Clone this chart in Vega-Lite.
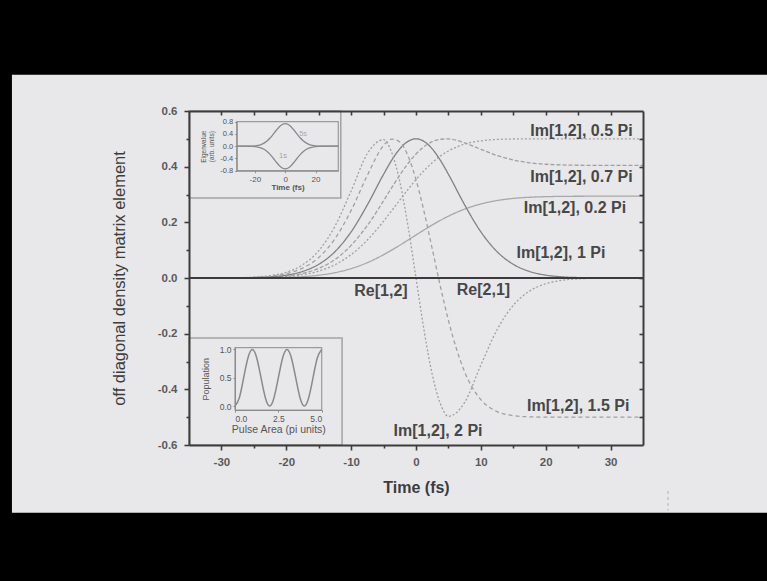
{
  "$schema": "https://vega.github.io/schema/vega-lite/v6.json",
  "width": 454,
  "height": 334,
  "autosize": {"type": "none"},
  "padding": {"left": 189, "top": 111, "right": 124, "bottom": 136},
  "background": "#000000",
  "config": {
    "view": {"stroke": null},
    "font": "Liberation Sans",
    "axis": {"grid": false},
    "text": {"font": "Liberation Sans"}
  },
  "datasets": {
    "coherence": [
      {"t": -35, "pi02": 0, "pi05": 0, "pi07": 0, "pi1": 0, "pi15": 0, "pi2": 0},
      {"t": -32.5, "pi02": 0, "pi05": 0, "pi07": 0, "pi1": 0, "pi15": 0.0001, "pi2": 0.0001},
      {"t": -30, "pi02": 0, "pi05": 0.0001, "pi07": 0.0001, "pi1": 0.0001, "pi15": 0.0002, "pi2": 0.0003},
      {"t": -27.5, "pi02": 0.0001, "pi05": 0.0003, "pi07": 0.0004, "pi1": 0.0005, "pi15": 0.0008, "pi2": 0.001},
      {"t": -25, "pi02": 0.0003, "pi05": 0.0008, "pi07": 0.0011, "pi1": 0.0015, "pi15": 0.0023, "pi2": 0.003},
      {"t": -22.5, "pi02": 0.0008, "pi05": 0.0021, "pi07": 0.0029, "pi1": 0.0041, "pi15": 0.0062, "pi2": 0.0083},
      {"t": -20, "pi02": 0.0021, "pi05": 0.0052, "pi07": 0.0072, "pi1": 0.0103, "pi15": 0.0155, "pi2": 0.0206},
      {"t": -17.5, "pi02": 0.0047, "pi05": 0.0118, "pi07": 0.0165, "pi1": 0.0235, "pi15": 0.0353, "pi2": 0.0471},
      {"t": -15, "pi02": 0.0099, "pi05": 0.0247, "pi07": 0.0345, "pi1": 0.0492, "pi15": 0.0737, "pi2": 0.098},
      {"t": -12.5, "pi02": 0.019, "pi05": 0.0475, "pi07": 0.0664, "pi1": 0.0946, "pi15": 0.1409, "pi2": 0.1858},
      {"t": -10, "pi02": 0.0338, "pi05": 0.0841, "pi07": 0.1172, "pi1": 0.1658, "pi15": 0.2428, "pi2": 0.3128},
      {"t": -7.5, "pi02": 0.0552, "pi05": 0.1366, "pi07": 0.1888, "pi1": 0.2628, "pi15": 0.369, "pi2": 0.447},
      {"t": -5, "pi02": 0.0837, "pi05": 0.204, "pi07": 0.2776, "pi1": 0.3726, "pi15": 0.4761, "pi2": 0.4969},
      {"t": -3.75, "pi02": 0.1002, "pi05": 0.2416, "pi07": 0.3244, "pi1": 0.4231, "pi15": 0.4991, "pi2": 0.4511},
      {"t": -2.5, "pi02": 0.1177, "pi05": 0.2799, "pi07": 0.3696, "pi1": 0.4639, "pi15": 0.4889, "pi2": 0.3462},
      {"t": -1.25, "pi02": 0.136, "pi05": 0.3178, "pi07": 0.4108, "pi1": 0.4906, "pi15": 0.44, "pi2": 0.1887},
      {"t": 0, "pi02": 0.1545, "pi05": 0.3536, "pi07": 0.4455, "pi1": 0.5, "pi15": 0.3536, "pi2": 0},
      {"t": 1.25, "pi02": 0.1728, "pi05": 0.386, "pi07": 0.4721, "pi1": 0.4906, "pi15": 0.2376, "pi2": -0.1887},
      {"t": 2.5, "pi02": 0.1904, "pi05": 0.4143, "pi07": 0.4897, "pi1": 0.4639, "pi15": 0.1052, "pi2": -0.3462},
      {"t": 3.75, "pi02": 0.2069, "pi05": 0.4379, "pi07": 0.4985, "pi1": 0.4231, "pi15": -0.029, "pi2": -0.4511},
      {"t": 5, "pi02": 0.2221, "pi05": 0.4565, "pi07": 0.4996, "pi1": 0.3726, "pi15": -0.1524, "pi2": -0.4969},
      {"t": 7.5, "pi02": 0.2475, "pi05": 0.4811, "pi07": 0.4855, "pi1": 0.2628, "pi15": -0.3374, "pi2": -0.447},
      {"t": 10, "pi02": 0.2659, "pi05": 0.4929, "pi07": 0.4622, "pi1": 0.1658, "pi15": -0.4371, "pi2": -0.3128},
      {"t": 12.5, "pi02": 0.2783, "pi05": 0.4977, "pi07": 0.44, "pi1": 0.0946, "pi15": -0.4798, "pi2": -0.1858},
      {"t": 15, "pi02": 0.2859, "pi05": 0.4994, "pi07": 0.424, "pi1": 0.0492, "pi15": -0.4945, "pi2": -0.098},
      {"t": 17.5, "pi02": 0.2901, "pi05": 0.4999, "pi07": 0.414, "pi1": 0.0235, "pi15": -0.4988, "pi2": -0.0471},
      {"t": 20, "pi02": 0.2922, "pi05": 0.5, "pi07": 0.4087, "pi1": 0.0103, "pi15": -0.4998, "pi2": -0.0206},
      {"t": 22.5, "pi02": 0.2933, "pi05": 0.5, "pi07": 0.4062, "pi1": 0.0041, "pi15": -0.5, "pi2": -0.0083},
      {"t": 25, "pi02": 0.2937, "pi05": 0.5, "pi07": 0.4051, "pi1": 0.0015, "pi15": -0.5, "pi2": -0.003},
      {"t": 27.5, "pi02": 0.2939, "pi05": 0.5, "pi07": 0.4047, "pi1": 0.0005, "pi15": -0.5, "pi2": -0.001},
      {"t": 30, "pi02": 0.2939, "pi05": 0.5, "pi07": 0.4046, "pi1": 0.0001, "pi15": -0.5, "pi2": -0.0003},
      {"t": 32.5, "pi02": 0.2939, "pi05": 0.5, "pi07": 0.4045, "pi1": 0, "pi15": -0.5, "pi2": -0.0001},
      {"t": 35, "pi02": 0.2939, "pi05": 0.5, "pi07": 0.4045, "pi1": 0, "pi15": -0.5, "pi2": 0}
    ],
    "eigen": [
      {"t": -32, "u": 0, "l": 0},
      {"t": -28, "u": 0.0002, "l": -0.0002},
      {"t": -24, "u": 0.0021, "l": -0.0021},
      {"t": -22, "u": 0.0053, "l": -0.0053},
      {"t": -20, "u": 0.0125, "l": -0.0125},
      {"t": -18, "u": 0.0272, "l": -0.0272},
      {"t": -16, "u": 0.0543, "l": -0.0543},
      {"t": -14, "u": 0.1001, "l": -0.1001},
      {"t": -12, "u": 0.1703, "l": -0.1703},
      {"t": -10, "u": 0.2667, "l": -0.2667},
      {"t": -8, "u": 0.3852, "l": -0.3852},
      {"t": -6, "u": 0.5125, "l": -0.5125},
      {"t": -4, "u": 0.6285, "l": -0.6285},
      {"t": -2, "u": 0.7104, "l": -0.7104},
      {"t": 0, "u": 0.74, "l": -0.74},
      {"t": 2, "u": 0.7104, "l": -0.7104},
      {"t": 4, "u": 0.6285, "l": -0.6285},
      {"t": 6, "u": 0.5125, "l": -0.5125},
      {"t": 8, "u": 0.3852, "l": -0.3852},
      {"t": 10, "u": 0.2667, "l": -0.2667},
      {"t": 12, "u": 0.1703, "l": -0.1703},
      {"t": 14, "u": 0.1001, "l": -0.1001},
      {"t": 16, "u": 0.0543, "l": -0.0543},
      {"t": 18, "u": 0.0272, "l": -0.0272},
      {"t": 20, "u": 0.0125, "l": -0.0125},
      {"t": 22, "u": 0.0053, "l": -0.0053},
      {"t": 24, "u": 0.0021, "l": -0.0021},
      {"t": 28, "u": 0.0002, "l": -0.0002},
      {"t": 32, "u": 0, "l": 0},
      {"t": 35, "u": 0, "l": 0}
    ],
    "population": [
      {"a": 0, "p": 0}, {"a": 0.25, "p": 0.1464}, {"a": 0.5, "p": 0.5}, {"a": 0.75, "p": 0.8536},
      {"a": 1, "p": 1}, {"a": 1.25, "p": 0.8536}, {"a": 1.5, "p": 0.5}, {"a": 1.75, "p": 0.1464},
      {"a": 2, "p": 0}, {"a": 2.25, "p": 0.1464}, {"a": 2.5, "p": 0.5}, {"a": 2.75, "p": 0.8536},
      {"a": 3, "p": 1}, {"a": 3.25, "p": 0.8536}, {"a": 3.5, "p": 0.5}, {"a": 3.75, "p": 0.1464},
      {"a": 4, "p": 0}, {"a": 4.25, "p": 0.1464}, {"a": 4.5, "p": 0.5}, {"a": 4.75, "p": 0.8536},
      {"a": 5, "p": 1}
    ],
    "rightNotes": [
      {"t": 33.4, "v": 0.527, "label": "Im[1,2], 0.5 Pi"},
      {"t": 33.4, "v": 0.363, "label": "Im[1,2], 0.7 Pi"},
      {"t": 32.4, "v": 0.2515, "label": "Im[1,2], 0.2 Pi"},
      {"t": 29.2, "v": 0.09, "label": "Im[1,2], 1 Pi"},
      {"t": 32.9, "v": -0.461, "label": "Im[1,2], 1.5 Pi"}
    ],
    "centerNotes": [
      {"t": 3.4, "v": -0.551, "label": "Im[1,2], 2 Pi"},
      {"t": -5.4, "v": -0.045, "label": "Re[1,2]"},
      {"t": 10.4, "v": -0.042, "label": "Re[2,1]"}
    ],
    "eigenNotes": [
      {"t": 11.8, "v": 0.41, "label": "5s", "state": "upper"},
      {"t": -1.5, "v": -0.33, "label": "1s", "state": "lower"}
    ]
  },
  "layer": [
    {
      "data": {"values": [{}]},
      "mark": {"type": "rect", "color": "#e8e8ea", "clip": false},
      "encoding": {
        "x": {"datum": -62.3, "type": "quantitative", "scale": {"domain": [-35, 35], "nice": false, "zero": false}, "axis": null},
        "x2": {"datum": 54.5},
        "y": {"datum": 0.7305, "type": "quantitative", "scale": {"domain": [-0.6, 0.6], "nice": false, "zero": false}, "axis": null},
        "y2": {"datum": -0.8433}
      }
    },
    {
      "data": {"values": [{}]},
      "mark": {"type": "rule", "color": "#b0b0b2", "strokeWidth": 1, "strokeDash": [3, 3], "clip": false},
      "encoding": {
        "x": {"datum": 38.85, "type": "quantitative", "scale": {"domain": [-35, 35], "nice": false, "zero": false}, "axis": null},
        "y": {"datum": -0.765, "type": "quantitative", "scale": {"domain": [-0.6, 0.6], "nice": false, "zero": false}, "axis": null},
        "y2": {"datum": -0.835}
      }
    },
    {
      "data": {"values": [{"x0": -35, "x1": -11.6, "y0": 0.6, "y1": 0.2875}, {"x0": -35, "x1": -11.4, "y0": -0.2156, "y1": -0.6}]},
      "mark": {"type": "rect", "filled": false, "stroke": "#a2a2a4", "strokeWidth": 1.5},
      "encoding": {
        "x": {"field": "x0", "type": "quantitative", "scale": {"domain": [-35, 35], "nice": false, "zero": false}, "axis": null},
        "x2": {"field": "x1"},
        "y": {"field": "y0", "type": "quantitative", "scale": {"domain": [-0.6, 0.6], "nice": false, "zero": false}, "axis": null},
        "y2": {"field": "y1"}
      }
    },
    {
      "data": {"name": "coherence"},
      "transform": [{"fold": ["pi02", "pi05", "pi07", "pi1", "pi15", "pi2"], "as": ["area", "v"]}],
      "mark": {"type": "line", "interpolate": "monotone", "strokeWidth": 1.3},
      "encoding": {
        "x": {
          "field": "t", "type": "quantitative",
          "scale": {"domain": [-35, 35], "nice": false, "zero": false},
          "axis": {
            "zindex": 1,
            "orient": "bottom",
            "values": [-30, -25, -20, -15, -10, -5, 0, 5, 10, 15, 20, 25, 30],
            "tickSize": {"condition": {"test": "datum.value % 10 === 0", "value": 5}, "value": 3},
            "labelExpr": "datum.value % 10 === 0 ? replace(datum.label, '\u2212', '-') : ''",
            "domainColor": "#3c3c3c", "domainWidth": 2,
            "tickColor": "#3c3c3c", "tickWidth": 1.6,
            "labelColor": "#5a5a5a", "labelFontSize": 11.5, "labelFontWeight": "bold", "labelPadding": 6,
            "title": "Time (fs)", "titleFontSize": 16, "titleFontWeight": "bold", "titleColor": "#3c3c3c", "titlePadding": 12
          }
        },
        "y": {
          "field": "v", "type": "quantitative",
          "scale": {"domain": [-0.6, 0.6], "nice": false, "zero": false},
          "axis": {
            "zindex": 1,
            "orient": "left",
            "values": [-0.6, -0.5, -0.4, -0.3, -0.2, -0.1, 0, 0.1, 0.2, 0.3, 0.4, 0.5, 0.6],
            "tickSize": {"condition": {"test": "abs(round(datum.value * 10)) % 2 === 0", "value": 5}, "value": 3},
            "labelExpr": "abs(round(datum.value * 10)) % 2 === 0 ? replace(format(datum.value, '.1f'), '\u2212', '-') : ''",
            "domainColor": "#3c3c3c", "domainWidth": 2,
            "tickColor": "#3c3c3c", "tickWidth": 1.6,
            "labelColor": "#5a5a5a", "labelFontSize": 11.5, "labelFontWeight": "bold", "labelPadding": 7,
            "title": "off diagonal density matrix element", "titleFontSize": 16.5, "titleFontWeight": "normal", "titleColor": "#3c3c3c", "titlePadding": 30
          }
        },
        "color": {
          "field": "area", "type": "nominal", "legend": null,
          "scale": {"domain": ["pi02", "pi05", "pi07", "pi1", "pi15", "pi2"], "range": ["#a8a8aa", "#a0a0a2", "#a0a0a2", "#808082", "#a0a0a2", "#a0a0a2"]}
        },
        "strokeDash": {
          "field": "area", "type": "nominal", "legend": null,
          "scale": {"domain": ["pi02", "pi05", "pi07", "pi1", "pi15", "pi2"], "range": [[1, 0], [2, 2], [4, 2], [1, 0], [4, 3], [2, 2]]}
        }
      }
    },
    {
      "data": {"values": [{}]},
      "mark": {"type": "rule", "color": "#3a3a3a", "strokeWidth": 2},
      "encoding": {
        "y": {"datum": 0, "type": "quantitative", "scale": {"domain": [-0.6, 0.6], "nice": false, "zero": false}, "axis": null}
      }
    },
    {
      "data": {"name": "rightNotes"},
      "mark": {"type": "text", "align": "right", "baseline": "middle", "fontSize": 16, "fontWeight": "bold", "color": "#474747"},
      "encoding": {
        "x": {"field": "t", "type": "quantitative", "scale": {"domain": [-35, 35], "nice": false, "zero": false}, "axis": null},
        "y": {"field": "v", "type": "quantitative", "scale": {"domain": [-0.6, 0.6], "nice": false, "zero": false}, "axis": null},
        "text": {"field": "label"}
      }
    },
    {
      "data": {"name": "centerNotes"},
      "mark": {"type": "text", "align": "center", "baseline": "middle", "fontSize": 16, "fontWeight": "bold", "color": "#474747"},
      "encoding": {
        "x": {"field": "t", "type": "quantitative", "scale": {"domain": [-35, 35], "nice": false, "zero": false}, "axis": null},
        "y": {"field": "v", "type": "quantitative", "scale": {"domain": [-0.6, 0.6], "nice": false, "zero": false}, "axis": null},
        "text": {"field": "label"}
      }
    },
    {
      "data": {"name": "coherence"},
      "mark": {"type": "point", "opacity": 0},
      "encoding": {
        "x": {
          "field": "t", "type": "quantitative",
          "scale": {"domain": [-35, 35], "nice": false, "zero": false},
          "axis": {"zindex": 1, "orient": "top", "labels": false, "title": null, "values": [-30, -25, -20, -15, -10, -5, 0, 5, 10, 15, 20, 25, 30], "tickSize": -4, "domainColor": "#3c3c3c", "domainWidth": 2, "tickColor": "#3c3c3c", "tickWidth": 1.6}
        },
        "y": {
          "field": "pi1", "type": "quantitative",
          "scale": {"domain": [-0.6, 0.6], "nice": false, "zero": false},
          "axis": {"zindex": 1, "orient": "right", "labels": false, "title": null, "values": [-0.5, -0.4, -0.3, -0.2, -0.1, 0, 0.1, 0.2, 0.3, 0.4, 0.5], "tickSize": -4, "domainColor": "#3c3c3c", "domainWidth": 2, "tickColor": "#3c3c3c", "tickWidth": 1.6}
        }
      }
    },
    {
      "data": {"values": [{}]},
      "mark": {"type": "rect", "filled": false, "stroke": "#9a9a9c", "strokeWidth": 1.2},
      "encoding": {
        "x": {"datum": -32, "type": "quantitative", "scale": {"domain": [-32, 35], "range": [47.7, 149.3], "nice": false, "zero": false}, "axis": null},
        "x2": {"datum": 35},
        "y": {"datum": -0.8, "type": "quantitative", "scale": {"domain": [-0.8, 0.8], "range": [59.7, 10.7], "nice": false, "zero": false}, "axis": null},
        "y2": {"datum": 0.8}
      }
    },
    {
      "data": {"name": "eigen"},
      "transform": [{"fold": ["u", "l"], "as": ["branch", "e"]}],
      "mark": {"type": "line", "interpolate": "monotone", "color": "#8a8a8c", "strokeWidth": 1.3},
      "encoding": {
        "x": {
          "field": "t", "type": "quantitative",
          "scale": {"domain": [-32, 35], "range": [47.7, 149.3], "nice": false, "zero": false},
          "axis": {"zindex": 1, "orient": "bottom", "offset": -274.3, "values": [-20, 0, 20], "tickSize": 2, "domainColor": "#8a8a8c", "tickColor": "#8a8a8c", "labelColor": "#555555", "labelFontSize": 8, "labelPadding": 3, "labelExpr": "replace(datum.label, '\u2212', '-')", "title": "Time (fs)", "titleFontSize": 8, "titleFontWeight": "bold", "titleColor": "#555555", "titlePadding": 0}
        },
        "y": {
          "field": "e", "type": "quantitative",
          "scale": {"domain": [-0.8, 0.8], "range": [59.7, 10.7], "nice": false, "zero": false},
          "axis": {"zindex": 1, "orient": "left", "offset": -47.7, "values": [-0.8, -0.4, 0, 0.4, 0.8], "tickSize": 2, "domainColor": "#8a8a8c", "tickColor": "#8a8a8c", "labelColor": "#555555", "labelFontSize": 7.5, "labelPadding": 2, "labelExpr": "replace(format(datum.value, '.1f'), '\u2212', '-')", "title": ["Eigenvalue", "(arb. units)"], "titleFontSize": 6.5, "titleFontWeight": "normal", "titleColor": "#555555", "titlePadding": 5}
        },
        "detail": {"field": "branch"}
      }
    },
    {
      "data": {"name": "eigenNotes"},
      "mark": {"type": "text", "fontSize": 7.5, "baseline": "middle", "align": "center"},
      "encoding": {
        "x": {"field": "t", "type": "quantitative", "scale": {"domain": [-32, 35], "range": [47.7, 149.3], "nice": false, "zero": false}, "axis": null},
        "y": {"field": "v", "type": "quantitative", "scale": {"domain": [-0.8, 0.8], "range": [59.7, 10.7], "nice": false, "zero": false}, "axis": null},
        "text": {"field": "label"},
        "color": {"field": "state", "type": "nominal", "legend": null, "scale": {"domain": ["upper", "lower"], "range": ["#444444", "#e0303a"]}}
      }
    },
    {
      "data": {"values": [{}]},
      "mark": {"type": "rect", "filled": false, "stroke": "#9a9a9c", "strokeWidth": 1.2},
      "encoding": {
        "x": {"datum": 0, "type": "quantitative", "scale": {"domain": [0, 5], "range": [46, 132.7], "nice": false, "zero": false}, "axis": null},
        "x2": {"datum": 5},
        "y": {"datum": -0.07, "type": "quantitative", "scale": {"domain": [-0.07, 1.03], "range": [299, 236.7], "nice": false, "zero": false}, "axis": null},
        "y2": {"datum": 1.03}
      }
    },
    {
      "data": {"name": "population"},
      "mark": {"type": "line", "interpolate": "natural", "color": "#8a8a8c", "strokeWidth": 1.5},
      "encoding": {
        "x": {
          "field": "a", "type": "quantitative",
          "scale": {"domain": [0, 5], "range": [46, 132.7], "nice": false, "zero": false},
          "axis": {"zindex": 1, "orient": "bottom", "offset": -35, "values": [0, 2.5, 5], "format": ".1f", "tickSize": 2, "domainColor": "#8a8a8c", "tickColor": "#8a8a8c", "labelColor": "#555555", "labelFontSize": 8.5, "labelPadding": 2, "title": "Pulse Area (pi units)", "titleFontSize": 10.5, "titleFontWeight": "normal", "titleColor": "#555555", "titlePadding": 1.5}
        },
        "y": {
          "field": "p", "type": "quantitative",
          "scale": {"domain": [-0.07, 1.03], "range": [299, 236.7], "nice": false, "zero": false},
          "axis": {"zindex": 1, "orient": "left", "offset": -46, "values": [0, 0.5, 1], "format": ".1f", "tickSize": 2, "domainColor": "#8a8a8c", "tickColor": "#8a8a8c", "labelColor": "#555555", "labelFontSize": 8.5, "labelPadding": 2, "title": "Population", "titleFontSize": 9, "titleFontWeight": "normal", "titleColor": "#555555", "titlePadding": 9}
        }
      }
    }
  ],
  "resolve": {"scale": {"x": "independent", "y": "independent"}, "axis": {"x": "independent", "y": "independent"}}
}
